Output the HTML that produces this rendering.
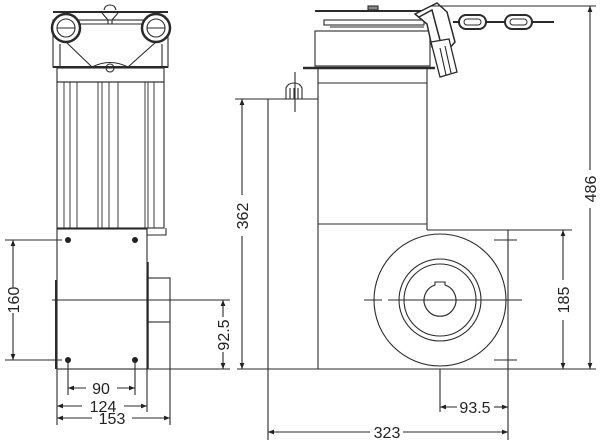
<!DOCTYPE html>
<html><head><meta charset="utf-8"><style>
html,body{margin:0;padding:0;background:#fff}
svg{display:block}
text{font-family:"Liberation Sans",sans-serif;font-size:16px;fill:#222}
</style></head><body>
<svg width="600" height="442" viewBox="0 0 600 442" xmlns="http://www.w3.org/2000/svg">
<defs>
<marker id="a" viewBox="0 0 10 10" refX="10" refY="5" markerWidth="9" markerHeight="6" orient="auto-start-reverse" markerUnits="userSpaceOnUse"><path d="M0,1 L10,5 L0,9 Z" fill="#222"/></marker>
</defs>
<g fill="none" stroke="#2a2a2a" stroke-width="1.1">
<line x1="53" y1="12" x2="168" y2="12" stroke-width="2"/>
<path d="M104,10 Q105,5 110,5 Q115,5 116,10" />
<path d="M102,13 L108,20 L108,24 M118,13 L112,20 L112,24"/>
<rect x="53" y="20" width="115" height="47"/>
<line x1="80" y1="24" x2="143" y2="24"/>
<circle cx="66" cy="28" r="14" stroke-width="2.5" fill="#fff"/>
<circle cx="66" cy="28" r="9"/>
<line x1="57" y1="28" x2="75" y2="28"/>
<circle cx="156" cy="28" r="14" stroke-width="2.5" fill="#fff"/>
<circle cx="156" cy="28" r="9"/>
<line x1="147" y1="28" x2="165" y2="28"/>
<path d="M66,42 L92,67 Q110,58 128,67 L156,42"/>
<line x1="60" y1="44" x2="60" y2="67"/><line x1="162" y1="44" x2="162" y2="67"/>
<circle cx="110" cy="68" r="4"/>
<line x1="53" y1="67" x2="168" y2="67" stroke-width="2"/>
<rect x="57" y="68" width="107" height="14"/>
<rect x="57" y="82" width="107" height="146"/>
<g stroke-width="0.9">
<line x1="64" y1="82" x2="64" y2="228"/><line x1="70" y1="82" x2="70" y2="228"/><line x1="77" y1="82" x2="77" y2="228"/>
<line x1="98" y1="82" x2="98" y2="228"/><line x1="102" y1="82" x2="102" y2="228"/><line x1="109" y1="82" x2="109" y2="228"/><line x1="118" y1="82" x2="118" y2="228"/>
<line x1="145" y1="82" x2="145" y2="228"/><line x1="148" y1="82" x2="148" y2="228"/><line x1="154" y1="82" x2="154" y2="228"/>
</g>
<path d="M147,228 L147,235 L166,235 L166,228"/>
<rect x="57" y="229" width="90" height="140"/>
<line x1="56" y1="280" x2="56" y2="369" stroke-width="2"/>
<line x1="148" y1="262" x2="148" y2="369" stroke-width="1.5"/>
<rect x="147" y="278" width="23" height="44"/>
<line x1="5" y1="240" x2="62" y2="240"/><line x1="5" y1="360" x2="62" y2="360"/>
<line x1="13" y1="240" x2="13" y2="287" marker-start="url(#a)"/><line x1="13" y1="313" x2="13" y2="360" marker-end="url(#a)"/>
<line x1="52" y1="300" x2="230" y2="300"/>
<line x1="147" y1="369" x2="230" y2="369"/>
<line x1="223" y1="300" x2="223" y2="317" marker-start="url(#a)"/><line x1="223" y1="352" x2="223" y2="369" marker-end="url(#a)"/>
<line x1="68" y1="362" x2="68" y2="395"/><line x1="135" y1="362" x2="135" y2="395"/>
<line x1="57" y1="369" x2="57" y2="425"/><line x1="147" y1="369" x2="147" y2="412"/><line x1="170" y1="322" x2="170" y2="425"/>
<line x1="68" y1="388" x2="86" y2="388" marker-start="url(#a)"/><line x1="117" y1="388" x2="135" y2="388" marker-end="url(#a)"/>
<line x1="57" y1="406" x2="82" y2="406" marker-start="url(#a)"/><line x1="124" y1="406" x2="147" y2="406" marker-end="url(#a)"/>
<line x1="57" y1="418" x2="92" y2="418" marker-start="url(#a)"/><line x1="132" y1="418" x2="170" y2="418" marker-end="url(#a)"/>

<line x1="315" y1="11" x2="430" y2="11" stroke-width="2"/>
<rect x="368" y="6" width="10" height="4" fill="#888"/>
<rect x="324" y="20" width="100" height="5"/>
<line x1="330" y1="27" x2="424" y2="27"/>
<rect x="315" y="31" width="115" height="35"/>
<line x1="303" y1="68" x2="435" y2="68" stroke-width="2.5"/>
<line x1="318" y1="69" x2="318" y2="369"/><line x1="427" y1="69" x2="427" y2="230"/>
<line x1="318" y1="83" x2="427" y2="83"/><line x1="318" y1="224" x2="427" y2="224"/>
<line x1="235" y1="99" x2="318" y2="99"/>
<line x1="268" y1="99" x2="268" y2="440"/>
<path d="M286,99 L286,88 Q288,83 294,83 Q300,83 302,88 L302,99"/>
<line x1="290" y1="88" x2="290" y2="99"/><line x1="294" y1="88" x2="294" y2="99"/><line x1="298" y1="88" x2="298" y2="99"/>
<line x1="295" y1="72" x2="295" y2="112"/>
<path d="M427,230 L508,230 L508,440"/>
<circle cx="440" cy="300" r="66"/>
<circle cx="440" cy="300" r="41"/>
<circle cx="440" cy="300" r="36"/>
<path d="M435,285 L435,282 L445,282 L445,285 A16,16 0 1 1 435,285 Z"/>
<line x1="364" y1="300" x2="382" y2="300"/><line x1="388" y1="300" x2="522" y2="300"/>
<line x1="494" y1="240" x2="517" y2="240"/><line x1="494" y1="360" x2="517" y2="360"/>
<line x1="237" y1="369" x2="596" y2="369"/>
<path d="M415,14 L437,3 L447,12 L455,42 L447,51 L432,47 L427,24 Z" fill="#fff" stroke-width="1.5"/>
<path d="M419,17 L432,10 L441,44" stroke-width="1.5"/>
<path d="M431,42 L449,39 L457,72 L440,77 Z" fill="#fff" stroke-width="1.3"/>
<line x1="440" y1="48" x2="446" y2="75"/><line x1="445" y1="46" x2="451" y2="73"/>
<g stroke-width="2">
<rect x="459" y="15" width="27" height="14" rx="7"/>
<rect x="464" y="19" width="17" height="6" rx="3" stroke-width="1"/>
<rect x="505" y="15" width="27" height="14" rx="7"/>
<rect x="510" y="19" width="17" height="6" rx="3" stroke-width="1"/>
<line x1="453" y1="22" x2="459" y2="22"/><line x1="486" y1="22" x2="505" y2="22"/><line x1="532" y1="22" x2="554" y2="22"/>
</g>
<line x1="430" y1="6" x2="596" y2="6"/>
<line x1="590" y1="6" x2="590" y2="170" marker-start="url(#a)"/><line x1="590" y1="208" x2="590" y2="369" marker-end="url(#a)"/>
<line x1="508" y1="230" x2="572" y2="230"/>
<line x1="563" y1="230" x2="563" y2="280" marker-start="url(#a)"/><line x1="563" y1="320" x2="563" y2="369" marker-end="url(#a)"/>
<line x1="242" y1="99" x2="242" y2="195" marker-start="url(#a)"/><line x1="242" y1="236" x2="242" y2="369" marker-end="url(#a)"/>
<line x1="440" y1="369" x2="440" y2="412"/>
<line x1="440" y1="407" x2="457" y2="407" marker-start="url(#a)"/><line x1="494" y1="407" x2="508" y2="407" marker-end="url(#a)"/>
<line x1="268" y1="432" x2="370" y2="432" marker-start="url(#a)"/><line x1="403" y1="432" x2="508" y2="432" marker-end="url(#a)"/>
</g>
<g fill="#222">
<circle cx="68" cy="240" r="3"/><circle cx="135" cy="240" r="3"/>
<circle cx="68" cy="360" r="3"/><circle cx="135" cy="360" r="3"/>
</g>
<text x="101" y="394" text-anchor="middle">90</text>
<text x="103" y="412" text-anchor="middle">124</text>
<text x="112" y="424" text-anchor="middle">153</text>
<text x="475" y="413" text-anchor="middle">93.5</text>
<text x="387" y="438" text-anchor="middle">323</text>
<text transform="translate(19,300) rotate(-90)" text-anchor="middle">160</text>
<text transform="translate(229,335) rotate(-90)" text-anchor="middle">92.5</text>
<text transform="translate(248,216) rotate(-90)" text-anchor="middle">362</text>
<text transform="translate(569,300) rotate(-90)" text-anchor="middle">185</text>
<text transform="translate(596,189) rotate(-90)" text-anchor="middle">486</text>
</svg>
</body></html>
